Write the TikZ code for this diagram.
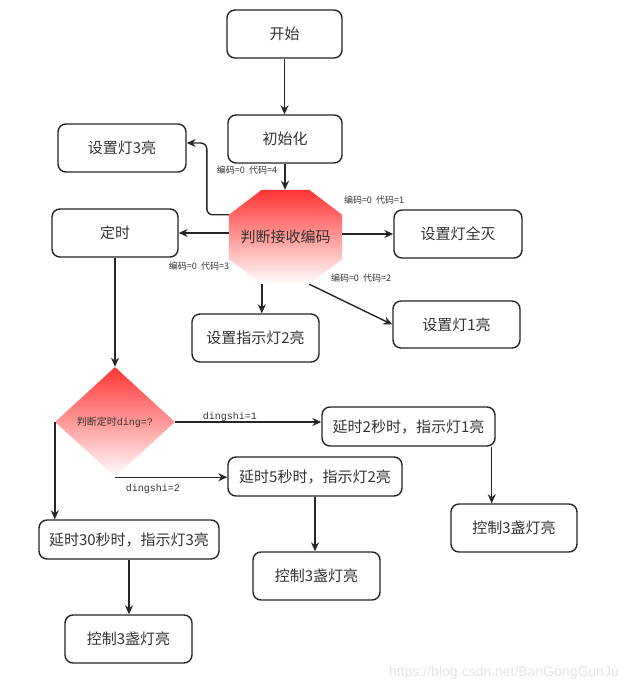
\documentclass[tikz,border=0pt]{standalone}
\usepackage{fontspec}
\setmainfont{Noto Sans CJK SC}
\setmonofont{Liberation Mono}
\setsansfont{Liberation Sans}
\usetikzlibrary{arrows.meta,positioning,calc,shapes.geometric,backgrounds}
\definecolor{hot}{RGB}{255,51,51}
\tikzset{
  box/.style={rectangle,rounded corners=8pt,draw=black!85,line width=1.4pt,minimum width=127pt,minimum height=48pt,inner sep=1pt,font=\fontsize{15}{18}\selectfont,text=black!80},
  wbox/.style={box,minimum height=39pt},
  lbl/.style={font=\fontsize{9}{10}\selectfont,text=black!80,inner sep=0pt},
  dlbl/.style={font=\ttfamily\fontsize{10}{11}\selectfont,text=black!80,inner sep=0pt},
  arr/.style={-{Stealth[length=9pt,width=8pt]},line width=1.4pt,draw=black!85},
}

\begin{document}
\begin{tikzpicture}[x=1pt,y=-1pt]
  \useasboundingbox (0,0) rectangle (628,692);
  % top part
  \node[box,minimum width=115pt] (start) at (284.5,34){开始};
  \node[box,minimum width=114pt] (init) at (285,139){初始化};
  \node[inner sep=0pt,minimum width=113pt,minimum height=94pt,font=\fontsize{15}{18}\selectfont,text=black!80] (judge) at (285.5,237){判断接收编码};
  \coordinate (jUL) at ($(judge.north west)+(0,25)$);
  \coordinate (jBL) at ($(judge.south west)+(33,0)$);
  \coordinate (jBR) at ($(judge.south east)+(-33,0)$);
  \begin{scope}[on background layer]
    \fill[white] (0,0) rectangle (628,692);
    \shade[top color=hot,bottom color=white]
      ($(judge.north west)+(33,0)$) -- ($(judge.north east)+(-33,0)$) -- ($(judge.north east)+(0,25)$)
      -- ($(judge.south east)+(0,-25)$) -- (jBR) -- (jBL) -- ($(judge.south west)+(0,-25)$) -- (jUL) -- cycle;
  \end{scope}
  \node[box,minimum width=128pt] (led3) at (122,148){设置灯3亮};
  \node[box,minimum width=126pt] (timer) at (115,233){定时};
  \node[box,minimum width=128pt] (alloff) at (458,234){设置灯全灭};
  \node[box] (ind2) at (255.5,338){设置指示灯2亮};
  \node[box,minimum height=47pt] (led1) at (456.5,324.5){设置灯1亮};
  % timer part
  \node[diamond,aspect=1.09,shade,top color=hot,bottom color=white,minimum width=120pt,minimum height=110pt,inner sep=1pt,font=\fontsize{10}{12}\selectfont,text=black!80] (ding) at (115,422){判断定时{\ttfamily ding=?}};
  \node[wbox,minimum width=173pt] (d2) at (408.5,426.5){延时2秒时，指示灯1亮};
  \node[wbox,minimum width=174pt] (d5) at (315,476.5){延时5秒时，指示灯2亮};
  \node[wbox,minimum width=180pt] (d30) at (129,539.5){延时30秒时，指示灯3亮};
  \node[box] (ctrlA) at (128.5,639){控制3盏灯亮};
  \node[box] (ctrlB) at (316.5,576){控制3盏灯亮};
  \node[box,minimum width=126pt] (ctrlC) at (514,528){控制3盏灯亮};
  \coordinate (d2out) at ([xshift=-4pt]d2.south east);
  % connectors
  \draw[arr] (start.south) -- (start.south |- init.north);
  \draw[arr] (init.south) -- (init.south |- judge.north);
  \draw[arr,rounded corners=6pt] (jUL) -- ++(-22,0) |- ([yshift=5pt]led3.east);
  \draw[arr] (judge.west |- timer.east) -- (timer.east);
  \draw[arr] (judge.east |- alloff.west) -- (alloff.west);
  \draw[arr] (jBL) -- (jBL |- ind2.north);
  \draw[arr] (jBR) -- (led1.west);
  \draw[arr] (timer.south) -- (ding.north);
  \draw[arr] (ding.east) -- (ding.east -| d2.west);
  \draw[arr] (ding.south) -- (ding.south -| d5.west);
  \draw[arr] (ding.west) -- (ding.west |- d30.north);
  \draw[arr] (d2out) -- (d2out |- ctrlC.north);
  \draw[arr] (d5.south) -- (d5.south |- ctrlB.north);
  \draw[arr] (d30.south) -- (d30.south |- ctrlA.north);
  % labels
  \node[lbl] (code4) at (247,170){编码=0~ 代码=4};
  \node[lbl] (code3) at (199,266){编码=0~ 代码=3};
  \node[lbl] (code1) at (374,200){编码=0~ 代码=1};
  \node[lbl] (code2) at (361,278){编码=0~ 代码=2};
  \node[dlbl] (ds1) at (230,417){dingshi=1};
  \node[dlbl] (ds2) at (153,489){dingshi=2};
  \node[font=\sffamily\fontsize{14}{15}\selectfont,text=black!10,anchor=east,inner sep=0pt] (wm) at (619,673){https://blog.csdn.net/BanGongGunJu};
\end{tikzpicture}
\end{document}
